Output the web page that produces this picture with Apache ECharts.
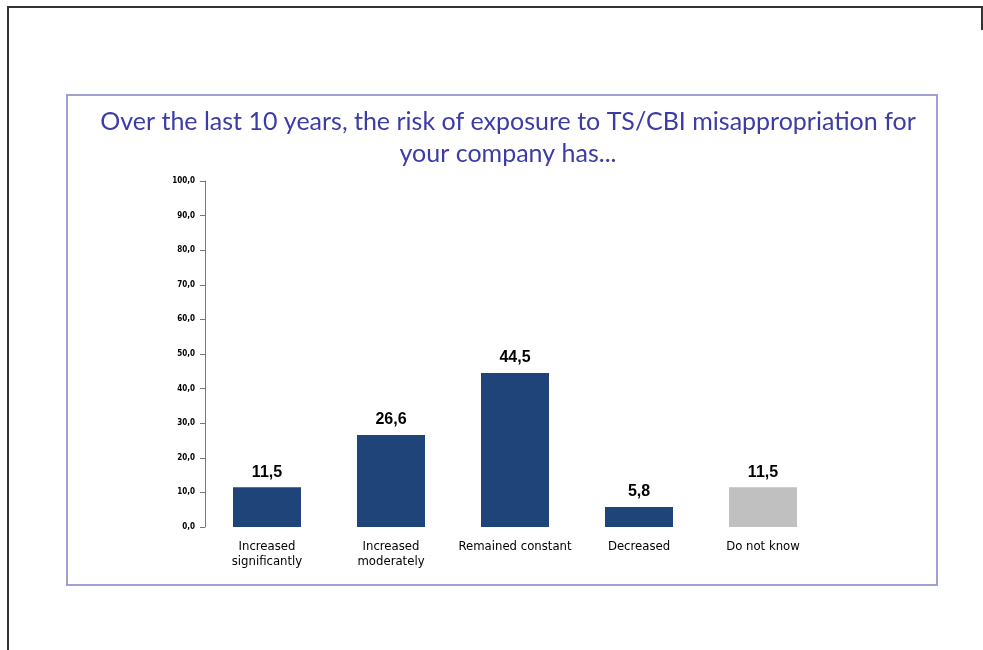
<!DOCTYPE html>
<html>
<head>
<meta charset="utf-8">
<script src="https://cdn.jsdelivr.net/npm/echarts@6/dist/echarts.min.js"></script>
<style>
  html, body { margin: 0; padding: 0; background: #fff; }
  #chart { width: 983px; height: 650px; }
</style>
</head>
<body>
<div id="chart"></div>
<script>
const categories = ['Increased\nsignificantly', 'Increased\nmoderately', 'Remained constant', 'Decreased', 'Do not know'];
const values = [11.5, 26.6, 44.5, 5.8, 11.5];
const barColors = ['#1f4479', '#1f4479', '#1f4479', '#1f4479', '#c0c0c0'];
const titleText = 'Over the last 10 years, the risk of exposure to TS/CBI misappropriation for\nyour company has...';

const fmt = v => v.toFixed(1).replace('.', ',');
const narrow = 'DejaVu Sans Condensed, Liberation Sans, sans-serif';

const chart = echarts.init(document.getElementById('chart'));
chart.setOption({
  animation: false,
  title: {
    text: titleText,
    left: 503,
    textAlign: 'center',
    top: 101,
    textStyle: { color: '#3c3ca6', fontSize: 25, fontWeight: 'normal', fontFamily: 'Lato', lineHeight: 32 }
  },
  graphic: [
    // outer page frame
    { type: 'polyline', shape: { points: [[8, 650], [8, 7], [982, 7], [982, 30]] }, style: { stroke: '#333', lineWidth: 2, fill: null } },
    // inner chart frame
    { type: 'rect', shape: { x: 67, y: 95, width: 870, height: 490 }, style: { stroke: '#a0a0d2', lineWidth: 2, fill: null } }
  ],
  grid: { left: 205, right: 158, top: 181, bottom: 123 },
  xAxis: {
    type: 'category',
    data: categories,
    axisLine: { show: false },
    axisTick: { show: false },
    axisLabel: { color: '#000', fontSize: 13, fontFamily: narrow, lineHeight: 15, margin: 12, interval: 0 }
  },
  yAxis: {
    type: 'value',
    min: 0, max: 100, interval: 10,
    axisLine: { show: true, lineStyle: { color: '#777', width: 1 } },
    axisTick: { show: true, length: 5, lineStyle: { color: '#777' } },
    splitLine: { show: false },
    axisLabel: { color: '#000', fontSize: 8, fontFamily: narrow, fontWeight: 'bold', margin: 10, formatter: fmt }
  },
  series: [{
    type: 'bar',
    data: values.map((v, i) => ({ value: v, itemStyle: { color: barColors[i] } })),
    barWidth: 68,
    label: {
      show: true, position: 'top', distance: 7,
      color: '#000', fontSize: 16, fontWeight: 'bold', fontFamily: 'Liberation Sans',
      formatter: p => fmt(p.value)
    }
  }]
});
</script>
</body>
</html>
